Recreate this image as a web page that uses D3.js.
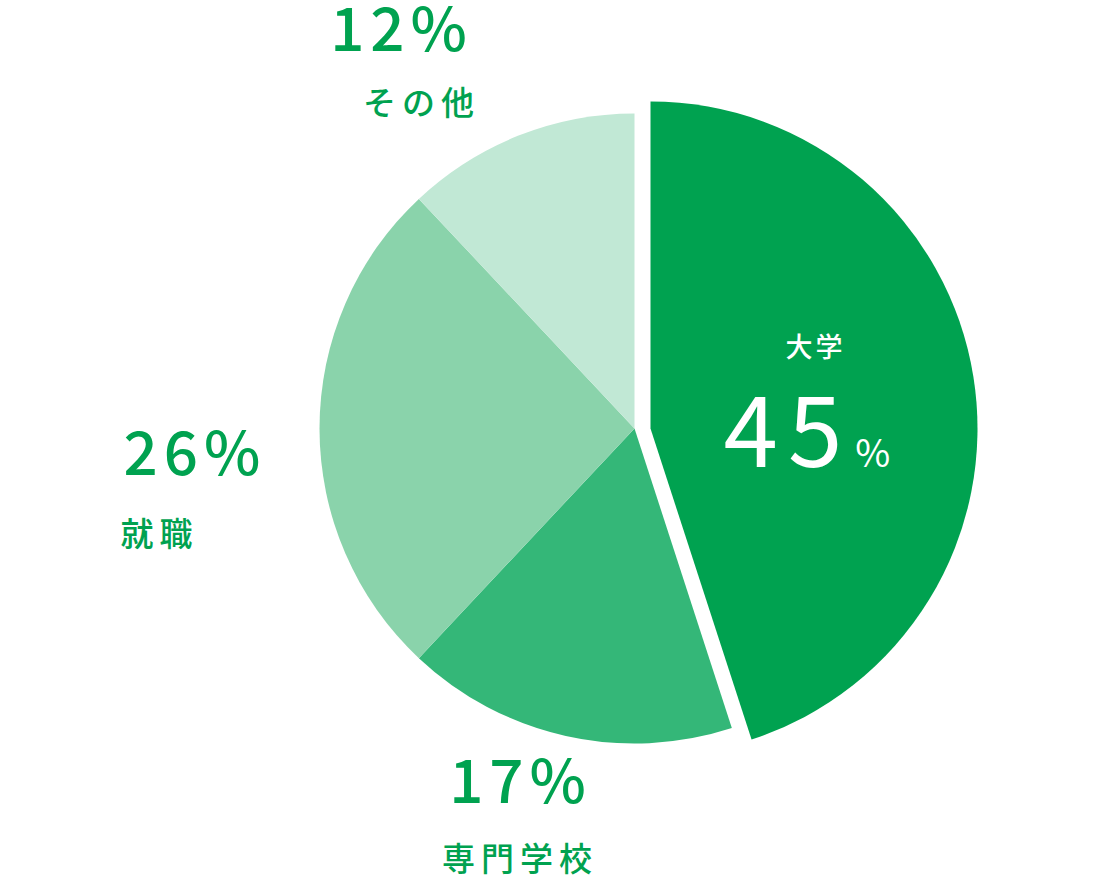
<!DOCTYPE html>
<html>
<head>
<meta charset="utf-8">
<script src="https://cdn.jsdelivr.net/npm/d3@7"></script>
<style>
  body { margin: 0; background: #fff; }
  text { font-family: "Noto Sans CJK JP", "Noto Sans", sans-serif; }
</style>
</head>
<body>
<div class="content"></div>
<script>
// Data
var categories = ['大学', '専門学校', '就職', 'その他'];
var shares = [45, 17, 26, 12];
var sliceColors = ['#00a250', '#34b778', '#8ad3ab', '#c1e8d5'];

var width = 1100,
    height = 880,
    cx = 634.5,
    cy = 428.5,
    radius = 315;

var textGreen = '#00a250';

var svg = d3.select(".content").append("svg")
    .attr("width", width)
    .attr("height", height);

var g = svg.append("g")
    .attr("transform", "translate(" + cx + "," + cy + ")");

var pie = d3.pie()
    .sort(null)
    .value(function(d) { return d; });

var arcs = pie(shares);

var arc = d3.arc().innerRadius(0).outerRadius(radius);
// the first slice is pulled out and drawn a bit larger
var arcBig = d3.arc().innerRadius(0).outerRadius(radius + 12);

g.selectAll("path.slice")
  .data(arcs)
  .enter()
  .append("path")
    .attr("class", "slice")
    .attr("d", function(d, i) { return i === 0 ? arcBig(d) : arc(d); })
    .attr("transform", function(d, i) { return i === 0 ? "translate(16,0)" : null; })
    .style("fill", function(d, i) { return sliceColors[i]; });

// label layout (relative to the pie centre): [percent x, percent baseline, name x, name baseline, anchor]
var labelLayout = [
  null,
  [-114, 374, -114.5, 442, "middle"],
  [-511, 46, -514, 117, "start"],
  [-233, -378, -213, -313.5, "middle"]
];

var outer = g.selectAll("g.outerLabel")
  .data(arcs)
  .enter()
  .filter(function(d, i) { return i > 0; })
  .append("g")
    .attr("class", "outerLabel");

outer.append("text")
    .attr("x", function(d) { return labelLayout[d.index][0]; })
    .attr("y", function(d) { return labelLayout[d.index][1]; })
    .attr("text-anchor", function(d) { return labelLayout[d.index][4]; })
    .style("font-size", "60px")
    .style("font-weight", 500)
    .style("letter-spacing", "6px")
    .style("fill", textGreen)
    .text(function(d) { return d.data + "%"; });

outer.append("text")
    .attr("x", function(d) { return labelLayout[d.index][2]; })
    .attr("y", function(d) { return labelLayout[d.index][3]; })
    .attr("text-anchor", function(d) { return labelLayout[d.index][4]; })
    .style("font-size", "33px")
    .style("font-weight", 500)
    .style("letter-spacing", "6px")
    .style("fill", textGreen)
    .text(function(d) { return categories[d.index]; });

// label inside the big slice
var inner = g.append("g")
    .attr("class", "innerLabel")
    .attr("transform", "translate(16,0)");

inner.append("text")
    .attr("x", 165)
    .attr("y", -72)
    .attr("text-anchor", "middle")
    .style("font-size", "27px")
    .style("font-weight", 500)
    .style("letter-spacing", "3px")
    .style("fill", "#fff")
    .text(categories[0]);

var big = inner.append("text")
    .attr("x", 73)
    .attr("y", 38)
    .style("fill", "#fff");

big.append("tspan")
    .style("font-size", "98px")
    .style("font-weight", 400)
    .style("letter-spacing", "10px")
    .text(shares[0]);

big.append("tspan")
    .attr("dx", 3)
    .style("font-size", "38px")
    .style("font-weight", 400)
    .text("%");
</script>
</body>
</html>
